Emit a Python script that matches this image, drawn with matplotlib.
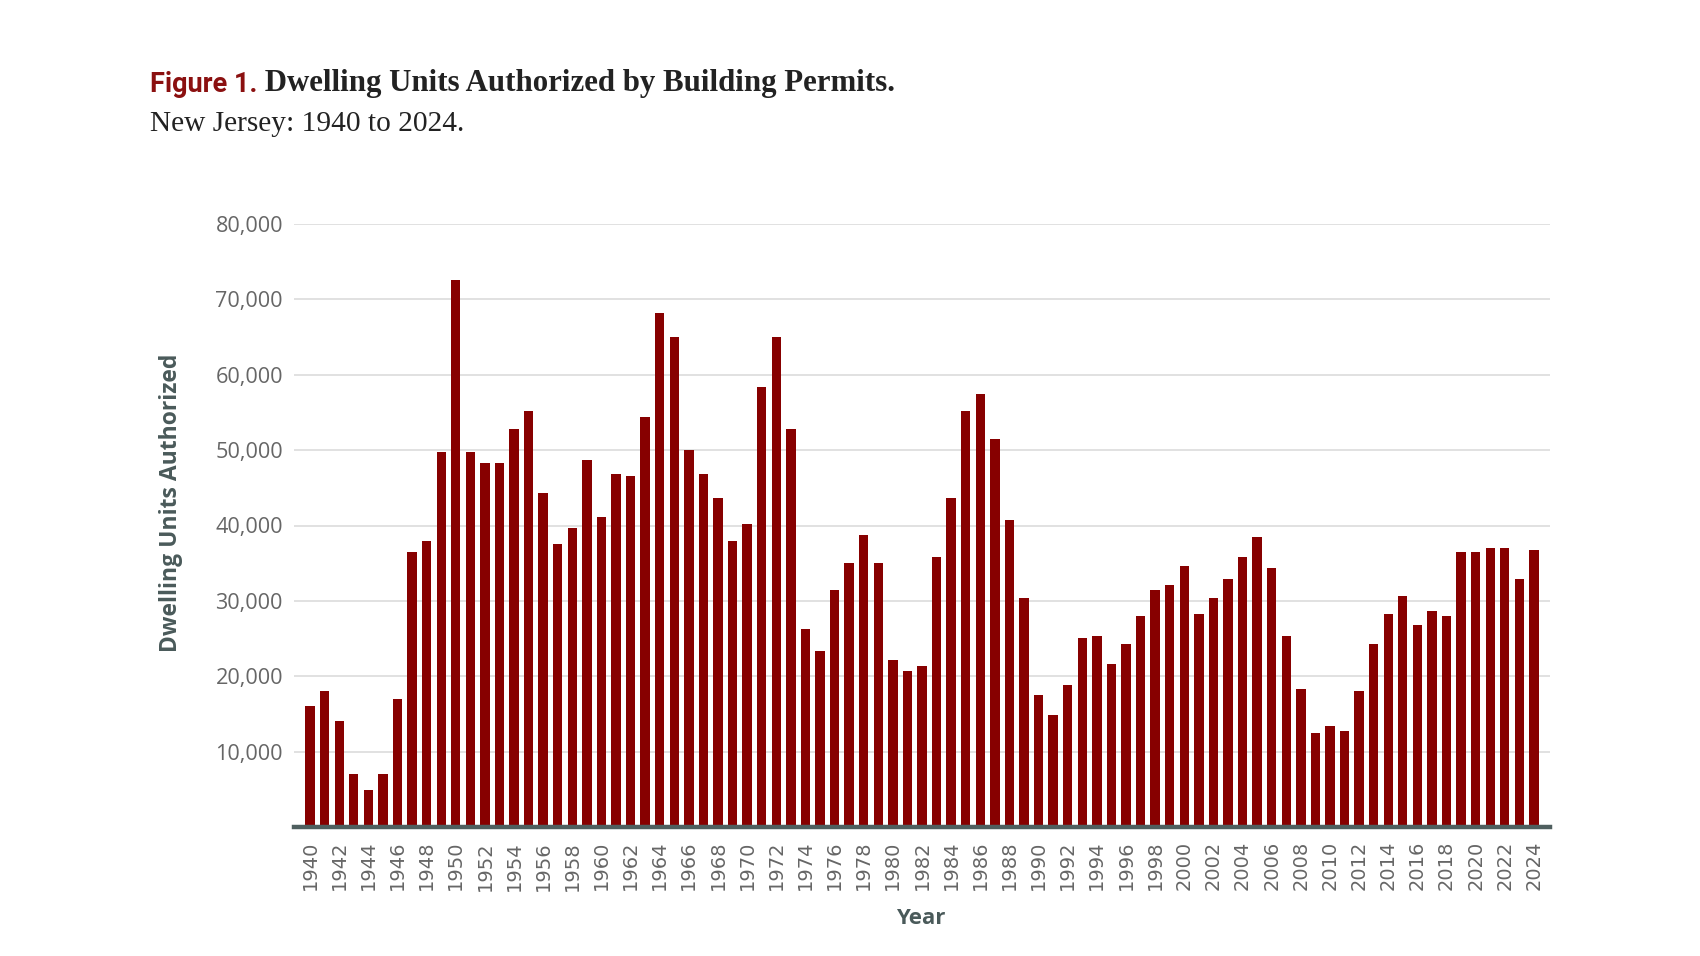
import matplotlib
matplotlib.use("Agg")
import matplotlib.pyplot as plt
from matplotlib.ticker import FuncFormatter, FixedLocator

years = list(range(1940, 2025))
units = [
    16000, 18100, 14000, 7060, 4940, 7060, 16930, 36460, 37950, 49790,
    72560, 49790, 48350, 48350, 52760, 55150, 44370, 37580, 39700, 48730,
    41140, 46870, 46600, 54460, 68200, 64970, 50050, 46870, 43680, 37950,
    40180, 58330, 64970, 52760, 26220, 23300, 31420, 35030, 38750, 35030,
    22130, 20650, 21340, 35830, 43680, 55150, 57380, 51540, 40760, 30360,
    17460, 14920, 18900, 25050, 25320, 21600, 24260, 27970, 31420, 32110,
    34610, 28240, 30360, 32910, 35830, 38480, 34340, 25320, 18370, 12530,
    13430, 12790, 18100, 24260, 28240, 30630, 26750, 28610, 27970, 36460,
    36460, 37050, 37050, 32910, 36780,
]
y_ticks = [10000, 20000, 30000, 40000, 50000, 60000, 70000, 80000]
x_ticks = list(range(1940, 2025, 2))

title_prefix = "Figure 1."
title_main = "Dwelling Units Authorized by Building Permits."
subtitle = "New Jersey: 1940 to 2024."
ylabel = "Dwelling Units Authorized"
xlabel = "Year"

W, H = 1700, 956
fig = plt.figure(figsize=(W / 100, H / 100), dpi=100)
fig.patch.set_facecolor("white")

left, right, top, bottom = 294, 1550, 224, 827
ax = fig.add_axes([left / W, 1 - bottom / H, (right - left) / W, (bottom - top) / H])

ax.bar(years, units, width=0.64, color="#870000", zorder=3)

ax.set_xlim(1938.9, 2025.1)
ax.set_ylim(0, 80000)

ax.yaxis.set_major_locator(FixedLocator(y_ticks))
ax.yaxis.set_major_formatter(FuncFormatter(lambda v, p: f"{int(v):,}"))
ax.set_xticks(x_ticks)
ax.set_xticklabels([str(y) for y in x_ticks], rotation=90, family="DejaVu Sans",
                   fontsize=14, color="#666666")
for lab in ax.get_yticklabels():
    lab.set_family("Open Sans")
    lab.set_fontsize(15.6)
    lab.set_color("#666666")

ax.tick_params(axis="y", length=0, pad=8)
ax.tick_params(axis="x", length=0, pad=10)

ax.grid(axis="y", color="#dedede", linewidth=1.3, zorder=0)
ax.grid(axis="x", visible=False)
for s in ["top", "right", "left"]:
    ax.spines[s].set_visible(False)
ax.spines["bottom"].set_color("#4f5f5f")
ax.spines["bottom"].set_linewidth(3.2)
ax.spines["bottom"].set_zorder(5)

fig.text(171 / W, 1 - 503 / H, ylabel, rotation=90, ha="center", va="center",
         family="Open Sans", fontweight="bold", fontsize=16.5, color="#4a5a5a")
fig.text(921 / W, 1 - 919 / H, xlabel, ha="center", va="center",
         family="Open Sans", fontweight="bold", fontsize=16, color="#4a5a5a")

t1 = fig.text(150 / W, 1 - 92 / H, title_prefix, ha="left", va="baseline",
              family="Roboto", fontweight="bold", fontsize=19.5, color="#8b1010")
ax.annotate(" " + title_main, xy=(1, 0), xycoords=t1, ha="left", va="bottom",
            family="Liberation Serif", fontweight="bold", fontsize=22.2, color="#222222",
            annotation_clip=False)
fig.text(150 / W, 1 - 131 / H, subtitle, ha="left", va="baseline",
         family="Liberation Serif", fontsize=21.2, color="#222222")

fig.savefig("out.png", dpi=100, facecolor="white")
